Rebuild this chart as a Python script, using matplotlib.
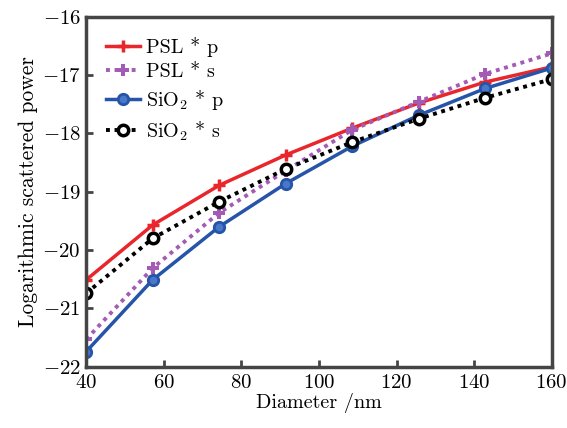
import matplotlib
matplotlib.use("Agg")
import matplotlib.pyplot as plt

plt.rcParams['font.family'] = ['cmr10', 'DejaVu Serif']
plt.rcParams['mathtext.fontset'] = 'cm'
plt.rcParams['axes.formatter.use_mathtext'] = True

# 数据
diameter = [40, 57.14, 74.29, 91.43, 108.57, 125.71, 142.86, 160]
psl_p = [-20.51, -19.57, -18.89, -18.37, -17.91, -17.48, -17.12, -16.86]
psl_s = [-21.53, -20.31, -19.36, -18.64, -17.94, -17.46, -16.98, -16.63]
sio2_p = [-21.74, -20.51, -19.60, -18.86, -18.22, -17.69, -17.23, -16.88]
sio2_s = [-20.74, -19.80, -19.17, -18.61, -18.15, -17.75, -17.39, -17.07]

labels = ['PSL * p', 'PSL * s', r'SiO$_2$ * p', r'SiO$_2$ * s']

fig = plt.figure(figsize=(5.67, 4.28), dpi=100)
ax = fig.add_axes([0.152, 0.143, 0.821, 0.818])

ax.plot(diameter, psl_p, color='#e8262c', lw=2.5, marker='+', ms=9, mew=2.5,
        label=labels[0])
ax.plot(diameter, psl_s, color='#a45bb5', lw=2.8, ls=(0, (1, 1.2)), marker='P', ms=8,
        mew=0, label=labels[1])
ax.plot(diameter, sio2_p, color='#2554a8', lw=2.5, marker='o', ms=7.5, mew=2,
        mfc='#4a78c8', mec='#2554a8', label=labels[2])
ax.plot(diameter, sio2_s, color='black', lw=2.8, ls=(0, (1, 1.2)), marker='o', ms=7.5,
        mew=2.5, mfc='white', mec='black', label=labels[3])

ax.set_xlim(40, 160)
ax.set_ylim(-22, -16)
ax.set_xticks(range(40, 161, 20))
ax.set_yticks(range(-22, -15, 1))

for s in ax.spines.values():
    s.set_color('#454545')
    s.set_linewidth(2.5)
ax.tick_params(direction='in', length=5, width=2, color='#454545',
               labelsize=15, top=False, right=False)
ax.tick_params(axis='x', pad=5)
ax.tick_params(axis='y', pad=4)

ax.set_xlabel('Diameter /nm', fontsize=14.5, labelpad=1)
ax.set_ylabel('Logarithmic scattered power', fontsize=15.5, labelpad=3)

ax.legend(loc='upper left', frameon=False, fontsize=14.5, handlelength=1.65,
          handletextpad=0.3, labelspacing=0.3, borderaxespad=0.6)

plt.savefig('out.png', dpi=100)
